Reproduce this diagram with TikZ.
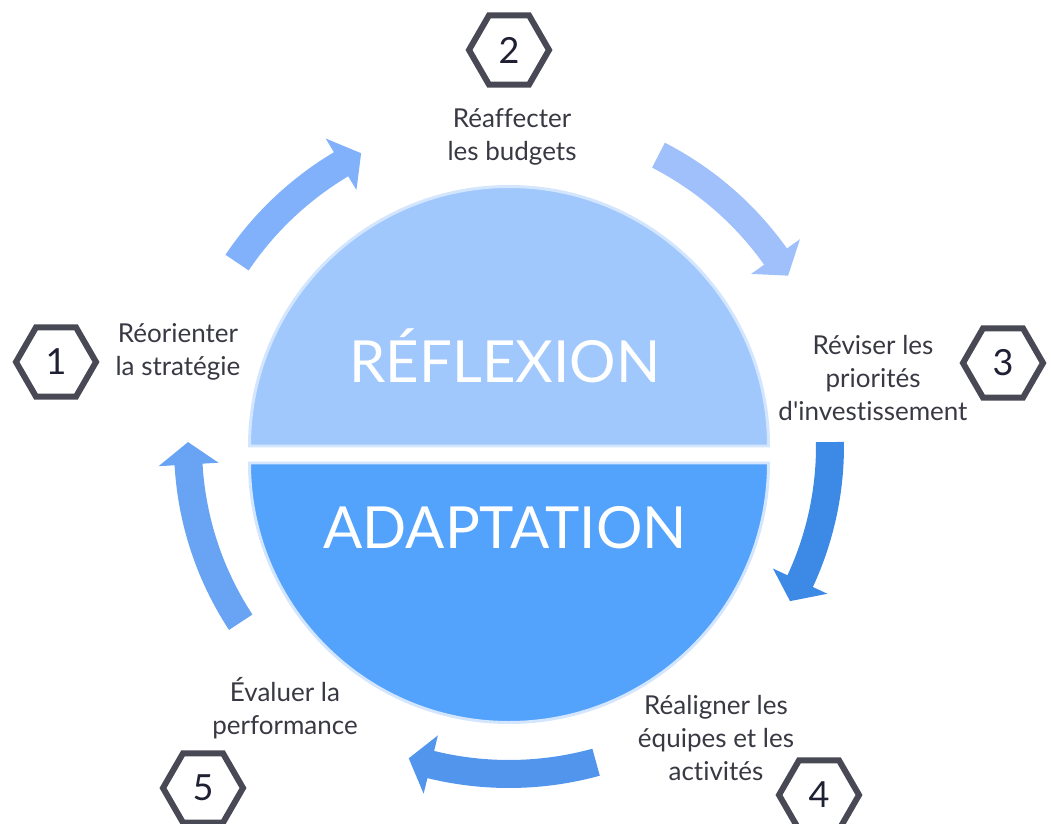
\documentclass[tikz,border=0pt]{standalone}
\usepackage{fontspec}
\setmainfont{Lato}[Ligatures={NoCommon}]
\usetikzlibrary{shapes.geometric,positioning}
\definecolor{upperblue}{HTML}{A0C8FC}
\definecolor{lowerblue}{HTML}{53A2FC}
\definecolor{rimblue}{HTML}{D3E6FE}
\definecolor{hexgray}{HTML}{484955}
\definecolor{numink}{HTML}{1F2033}
\definecolor{lblink}{HTML}{383943}
\definecolor{arrowA}{HTML}{80B1FA}
\definecolor{arrowB}{HTML}{A0C0FC}
\definecolor{arrowC}{HTML}{3D8AE6}
\definecolor{arrowD}{HTML}{5196EC}
\definecolor{arrowE}{HTML}{68A4F3}
\tikzset{
hexa/.style = {draw=hexgray, line width=4.27pt, regular polygon, regular polygon sides=6, minimum size=56.9pt, inner sep=0pt, text=numink, font=\fontsize{25.6}{30}\selectfont},
lbl/.style  = {align=center, text=lblink, font=\fontsize{18.5}{23.5}\selectfont},
word/.style = {text=white, anchor=base, font=\fontsize{41.3}{50}\selectfont},
half/.style = {draw=rimblue, line width=2.13pt}
}
% tail angle, tip angle, radius, colour
\newcommand{\ringarrow}[4]{%
  \pgfmathsetmacro{\hb}{#2+4}
  \pgfmathsetmacro{\ri}{#3-14}
  \pgfmathsetmacro{\ro}{#3+14}
  \pgfmathsetmacro{\hi}{#3-30}
  \pgfmathsetmacro{\ho}{#3+30}
  \fill[#4] (#1:\ri) arc[start angle=#1, end angle=\hb, radius=\ri]
    -- (\hb:\hi) -- (#2:#3) -- (\hb:\ho) -- (\hb:\ro)
    arc[start angle=\hb, end angle=#1, radius=\ro] -- cycle;
}

\begin{document}
\begin{tikzpicture}[x=0.025cm, y=0.025cm]
  \useasboundingbox (0,0) rectangle (1051,823);

  \filldraw [half, fill=upperblue] (249.5,377) arc[start angle=180, end angle=0, radius=259.5] -- cycle;
  \filldraw [half, fill=lowerblue] (249.5,360) arc[start angle=180, end angle=360, radius=259.5] -- cycle;

  \node [word] (reflexion)  at (505,440) {RÉFLEXION};
  \node [word] (adaptation) at (505,274) {ADAPTATION};

  \begin{scope}[shift={(509,377)}]
    \ringarrow{146.0}{116.8}{328}{arrowA}
    \ringarrow{62.8}{31.4}{327}{arrowB}
    \ringarrow{0.7}{-28.9}{321}{arrowC}
    \ringarrow{-74.6}{-107.8}{328}{arrowD}
    \ringarrow{-146.7}{-180.7}{321}{arrowE}
  \end{scope}

  \node [hexa] (hex1) at (56,461)  {1};
  \node [hexa] (hex2) at (509,773) {2};
  \node [hexa] (hex3) at (1003,460) {3};
  \node [hexa] (hex4) at (819,28)  {4};
  \node [hexa] (hex5) at (203,35)  {5};

  \node [lbl] (lab1) at (178,471) {Réorienter\\la stratégie};
  \node [lbl] (lab2) at (512,686) {Réaffecter\\les budgets};
  \node [lbl] (lab3) at (873,445) {Réviser les\\priorités\\d\textquotesingle investissement};
  \node [lbl] (lab4) at (716,85)  {Réaligner les\\équipes et les\\activités};
  \node [lbl] (lab5) at (285,115) {Évaluer la\\performance};
\end{tikzpicture}
\end{document}
